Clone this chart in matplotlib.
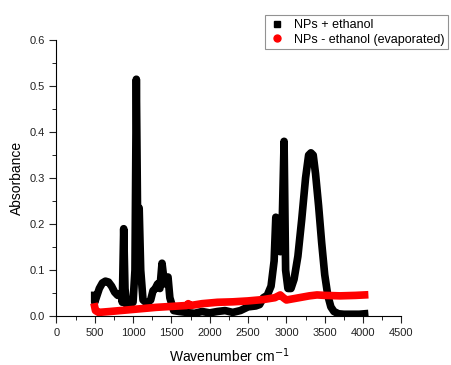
import matplotlib
matplotlib.use("Agg")
import matplotlib.pyplot as plt
from matplotlib.ticker import MultipleLocator, FormatStrFormatter

# NPs + ethanol
wn_eth = [500, 500, 520, 560, 600, 640, 680, 720, 760, 800, 840, 860, 878, 895, 915,
          950, 1000, 1025, 1043, 1060, 1080, 1100, 1130, 1180, 1230, 1260, 1290, 1320,
          1350, 1378, 1410, 1456, 1480, 1530, 1600, 1700, 1800, 1900, 2000, 2100,
          2200, 2300, 2400, 2500, 2600, 2650, 2700, 2750, 2800, 2840, 2862, 2890,
          2920, 2945, 2970, 2990, 3020, 3060, 3100, 3150, 3200, 3250, 3290, 3320,
          3350, 3380, 3420, 3460, 3500, 3540, 3580, 3620, 3680, 3750, 3850, 3950, 4020]
abs_eth = [0.045, 0.03, 0.04, 0.06, 0.072, 0.076, 0.074, 0.065, 0.052, 0.045, 0.05,
           0.03, 0.19, 0.06, 0.025, 0.025, 0.03, 0.1, 0.515, 0.2, 0.235, 0.1, 0.035,
           0.028, 0.035, 0.055, 0.06, 0.07, 0.06, 0.115, 0.07, 0.085, 0.04, 0.012,
           0.01, 0.008, 0.006, 0.01, 0.007, 0.01, 0.012, 0.008, 0.012, 0.02, 0.022,
           0.025, 0.04, 0.045, 0.065, 0.12, 0.215, 0.21, 0.14, 0.2, 0.38, 0.1, 0.06,
           0.06, 0.08, 0.13, 0.21, 0.3, 0.35, 0.355, 0.35, 0.31, 0.24, 0.16, 0.09,
           0.045, 0.02, 0.01, 0.005, 0.004, 0.004, 0.004, 0.005]

# NPs - ethanol (evaporated)
wn_evap = [500, 510, 550, 700, 900, 1100, 1300, 1500, 1700, 1720, 1750, 1900, 2100,
           2300, 2500, 2700, 2850, 2920, 2960, 3000, 3100, 3200, 3300, 3400, 3500,
           3700, 3900, 4020]
abs_evap = [0.02, 0.012, 0.008, 0.01, 0.013, 0.016, 0.019, 0.021, 0.023, 0.027,
            0.023, 0.027, 0.03, 0.031, 0.033, 0.036, 0.04, 0.046, 0.04, 0.035, 0.038,
            0.041, 0.044, 0.046, 0.045, 0.044, 0.045, 0.046]

plt.rcParams["font.family"] = ["Liberation Sans", "DejaVu Sans"]
fig = plt.figure(figsize=(4.51, 3.65), dpi=100)
ax = fig.add_axes([0.125, 0.134, 0.765, 0.756])

# thick lines stand in for the dense scatter markers of the original
ax.plot(wn_eth, abs_eth, color="black", lw=5.5, marker="s", ms=0.1,
        solid_joinstyle="round", label="NPs + ethanol")
ax.plot(wn_evap, abs_evap, color="#ff0000", lw=5.5, marker="o", ms=0.1,
        solid_joinstyle="round", label="NPs - ethanol (evaporated)")

ax.set_xlim(0, 4500)
ax.set_ylim(0, 0.6)
ax.xaxis.set_major_locator(MultipleLocator(500))
ax.xaxis.set_minor_locator(MultipleLocator(250))
ax.yaxis.set_major_locator(MultipleLocator(0.1))
ax.yaxis.set_minor_locator(MultipleLocator(0.05))
ax.yaxis.set_major_formatter(FormatStrFormatter("%.1f"))
for s in ["top", "right"]:
    ax.spines[s].set_visible(False)
ax.tick_params(which="major", direction="out", length=5, labelsize=8, colors="#222222")
ax.tick_params(which="minor", direction="out", length=3)
ax.set_xlabel("Wavenumber cm$^{-1}$", fontsize=10, labelpad=6)
ax.set_ylabel("Absorbance", fontsize=10, labelpad=4)

leg = fig.legend(loc="upper left", bbox_to_anchor=(259 / 451, 1 - 9 / 365),
                 fontsize=9, frameon=True, fancybox=False, handlelength=1.2,
                 borderpad=0.3, labelspacing=0.2, handletextpad=0.8)
leg.get_frame().set_edgecolor("#777777")
leg.get_frame().set_linewidth(0.8)
for h in leg.legend_handles:
    h.set_linestyle("none")
    h.set_markersize(5)

fig.savefig("out.png", dpi=100)
